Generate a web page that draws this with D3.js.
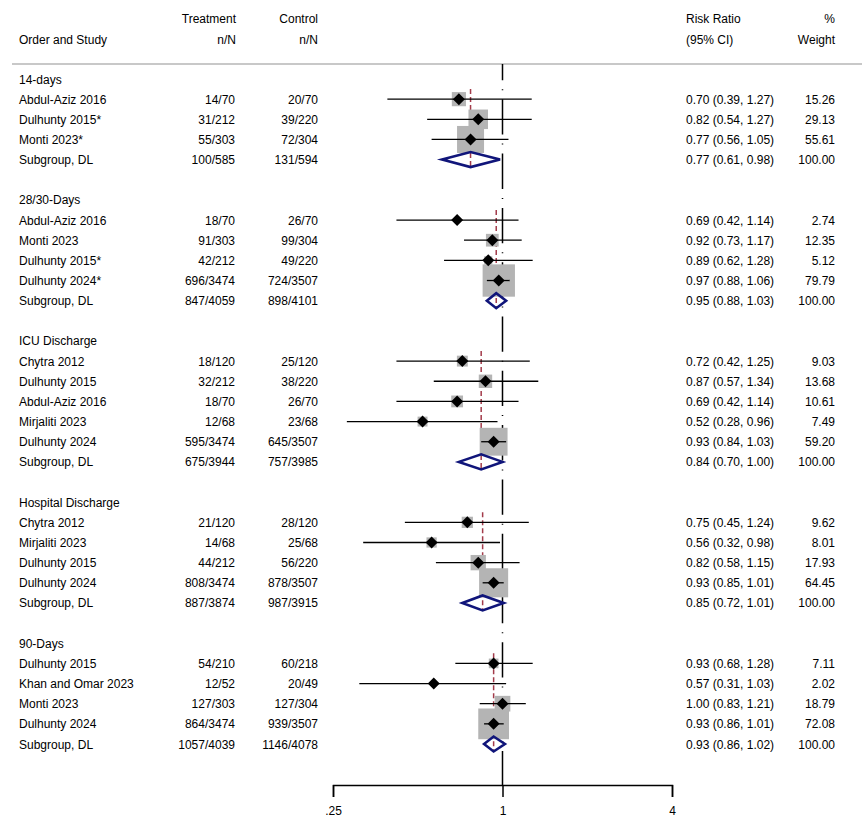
<!DOCTYPE html>
<html>
<head>
<meta charset="utf-8">
<script src="https://cdn.jsdelivr.net/npm/d3@7"></script>
<style>
  body { margin: 0; background: #fff; }
  svg text { font-family: "Liberation Sans", Arial, sans-serif; font-size: 12px; fill: #000; }
</style>
</head>
<body>
<div id="forest_div"></div>
<script>
// subgroups (outcome timepoints)
const groups = ["14-days", "28/30-Days", "ICU Discharge", "Hospital Discharge", "90-Days"];

// study rows
const studyGroup = [0, 0, 0, 1, 1, 1, 1, 2, 2, 2, 2, 2, 3, 3, 3, 3, 4, 4, 4, 4];
const studies = [
  "Abdul-Aziz 2016", "Dulhunty 2015*", "Monti 2023*",
  "Abdul-Aziz 2016", "Monti 2023", "Dulhunty 2015*", "Dulhunty 2024*",
  "Chytra 2012", "Dulhunty 2015", "Abdul-Aziz 2016", "Mirjaliti 2023", "Dulhunty 2024",
  "Chytra 2012", "Mirjaliti 2023", "Dulhunty 2015", "Dulhunty 2024",
  "Dulhunty 2015", "Khan and Omar 2023", "Monti 2023", "Dulhunty 2024"
];
const treatment = [
  "14/70", "31/212", "55/303",
  "18/70", "91/303", "42/212", "696/3474",
  "18/120", "32/212", "18/70", "12/68", "595/3474",
  "21/120", "14/68", "44/212", "808/3474",
  "54/210", "12/52", "127/303", "864/3474"
];
const control = [
  "20/70", "39/220", "72/304",
  "26/70", "99/304", "49/220", "724/3507",
  "25/120", "38/220", "26/70", "23/68", "645/3507",
  "28/120", "25/68", "56/220", "878/3507",
  "60/218", "20/49", "127/304", "939/3507"
];
const rr = [0.70, 0.82, 0.77, 0.69, 0.92, 0.89, 0.97, 0.72, 0.87, 0.69, 0.52, 0.93, 0.75, 0.56, 0.82, 0.93, 0.93, 0.57, 1.00, 0.93];
const lo = [0.39, 0.54, 0.56, 0.42, 0.73, 0.62, 0.88, 0.42, 0.57, 0.42, 0.28, 0.84, 0.45, 0.32, 0.58, 0.85, 0.68, 0.31, 0.83, 0.86];
const hi = [1.27, 1.27, 1.05, 1.14, 1.17, 1.28, 1.06, 1.25, 1.34, 1.14, 0.96, 1.03, 1.24, 0.98, 1.15, 1.01, 1.28, 1.03, 1.21, 1.01];
const weight = [15.26, 29.13, 55.61, 2.74, 12.35, 5.12, 79.79, 9.03, 13.68, 10.61, 7.49, 59.20, 9.62, 8.01, 17.93, 64.45, 7.11, 2.02, 18.79, 72.08];

// subgroup pooled estimates (DerSimonian-Laird)
const subTreatment = ["100/585", "847/4059", "675/3944", "887/3874", "1057/4039"];
const subControl = ["131/594", "898/4101", "757/3985", "987/3915", "1146/4078"];
const subRR = [0.77, 0.95, 0.84, 0.85, 0.93];
const subLo = [0.61, 0.88, 0.70, 0.72, 0.86];
const subHi = [0.98, 1.03, 1.00, 1.01, 1.02];

// x-axis ticks
const tickVals = [0.25, 1, 4];
const tickLabels = [".25", "1", "4"];

const width = 862, height = 835;

const svg = d3.select("#forest_div")
  .append("svg")
  .attr("width", width)
  .attr("height", height);

// build the row layout: header, studies, subgroup, blank
let rows = [];
let idx = 0;
groups.forEach((g, gi) => {
  const start = idx;
  rows.push({type: "header", label: g, row: idx++, group: gi});
  studies.forEach((s, i) => {
    if (studyGroup[i] === gi) rows.push({type: "study", i: i, row: idx++, group: gi});
  });
  rows.push({type: "sub", i: gi, row: idx++, group: gi, start: start});
  idx++;
});

const y = d3.scaleLinear().domain([0, 33]).range([79, 744]);
const x = d3.scaleLog().base(2).domain([0.25, 4]).range([333, 672]);
const axisY = 785;
const fmt = d3.format(".2f");

// header texts
const hdr = svg.append("g");
hdr.append("text").attr("x", 236).attr("y", 23).attr("text-anchor", "end").text("Treatment");
hdr.append("text").attr("x", 318).attr("y", 23).attr("text-anchor", "end").text("Control");
hdr.append("text").attr("x", 19).attr("y", 43.5).text("Order and Study");
hdr.append("text").attr("x", 236).attr("y", 43.5).attr("text-anchor", "end").text("n/N");
hdr.append("text").attr("x", 318).attr("y", 43.5).attr("text-anchor", "end").text("n/N");
hdr.append("text").attr("x", 686).attr("y", 23).text("Risk Ratio");
hdr.append("text").attr("x", 686).attr("y", 43.5).text("(95% CI)");
hdr.append("text").attr("x", 835).attr("y", 23).attr("text-anchor", "end").text("%");
hdr.append("text").attr("x", 835).attr("y", 43.5).attr("text-anchor", "end").text("Weight");

svg.append("line")
  .attr("x1", 12).attr("x2", width)
  .attr("y1", 64).attr("y2", 64)
  .attr("stroke", "#c8c8c8")
  .attr("stroke-width", 2);

// null line at RR = 1
svg.append("line")
  .attr("x1", x(1)).attr("x2", x(1))
  .attr("y1", 64).attr("y2", axisY)
  .attr("stroke", "#000")
  .attr("stroke-width", 1.5)
  .attr("stroke-dasharray", "35.3,9,1,9")
  .attr("stroke-dashoffset", 19);

// subgroup pooled-estimate dashed lines
const subRows = rows.filter(d => d.type === "sub");
svg.append("g")
  .selectAll("line")
  .data(subRows)
  .join("line")
    .attr("x1", d => x(subRR[d.i]))
    .attr("x2", d => x(subRR[d.i]))
    .attr("y1", d => y(d.start) + 10)
    .attr("y2", d => y(d.row) + 8)
    .attr("stroke", "#a33b4a")
    .attr("stroke-width", 1.5)
    .attr("stroke-dasharray", "5,3");

// study markers
const studyRows = rows.filter(d => d.type === "study");
const boxSide = i => 3.62 * Math.sqrt(weight[i]);

svg.append("g")
  .selectAll("rect")
  .data(studyRows)
  .join("rect")
    .attr("x", d => x(rr[d.i]) - boxSide(d.i) / 2)
    .attr("y", d => y(d.row) - boxSide(d.i) / 2)
    .attr("width", d => boxSide(d.i))
    .attr("height", d => boxSide(d.i))
    .attr("fill", "#b4b4b4");

svg.append("g")
  .selectAll("line")
  .data(studyRows)
  .join("line")
    .attr("x1", d => x(lo[d.i]))
    .attr("x2", d => x(hi[d.i]))
    .attr("y1", d => y(d.row))
    .attr("y2", d => y(d.row))
    .attr("stroke", "#000")
    .attr("stroke-width", 1.3);

svg.append("g")
  .selectAll("path")
  .data(studyRows)
  .join("path")
    .attr("d", d => {
      const cx = x(rr[d.i]), cy = y(d.row), r = 6;
      return `M${cx - r},${cy}L${cx},${cy - r}L${cx + r},${cy}L${cx},${cy + r}Z`;
    })
    .attr("fill", "#000");

// subgroup diamonds
svg.append("g")
  .selectAll("path")
  .data(subRows)
  .join("path")
    .attr("d", d => {
      const cy = y(d.row), h = 7.5;
      return `M${x(subLo[d.i])},${cy}L${x(subRR[d.i])},${cy - h}L${x(subHi[d.i])},${cy}L${x(subRR[d.i])},${cy + h}Z`;
    })
    .attr("fill", "none")
    .attr("stroke", "#10157a")
    .attr("stroke-width", 2.6)
    .attr("stroke-linejoin", "miter");

// text columns
const txt = svg.append("g");
rows.forEach(d => {
  const ty = y(d.row) + 4.5;
  if (d.type === "header") {
    txt.append("text").attr("x", 19).attr("y", ty).text(d.label);
  } else if (d.type === "study") {
    const i = d.i;
    txt.append("text").attr("x", 19).attr("y", ty).text(studies[i]);
    txt.append("text").attr("x", 235).attr("y", ty).attr("text-anchor", "end").text(treatment[i]);
    txt.append("text").attr("x", 318).attr("y", ty).attr("text-anchor", "end").text(control[i]);
    txt.append("text").attr("x", 686).attr("y", ty).text(`${fmt(rr[i])} (${fmt(lo[i])}, ${fmt(hi[i])})`);
    txt.append("text").attr("x", 835).attr("y", ty).attr("text-anchor", "end").text(fmt(weight[i]));
  } else {
    const i = d.i;
    txt.append("text").attr("x", 19).attr("y", ty).text("Subgroup, DL");
    txt.append("text").attr("x", 235).attr("y", ty).attr("text-anchor", "end").text(subTreatment[i]);
    txt.append("text").attr("x", 318).attr("y", ty).attr("text-anchor", "end").text(subControl[i]);
    txt.append("text").attr("x", 686).attr("y", ty).text(`${fmt(subRR[i])} (${fmt(subLo[i])}, ${fmt(subHi[i])})`);
    txt.append("text").attr("x", 835).attr("y", ty).attr("text-anchor", "end").text("100.00");
  }
});

// x axis
const xAxis = svg.append("g")
  .attr("transform", `translate(0, ${axisY})`)
  .call(d3.axisBottom(x)
    .tickValues(tickVals)
    .tickFormat((d, i) => tickLabels[i])
    .tickSizeInner(12)
    .tickSizeOuter(12)
    .tickPadding(9));
xAxis.selectAll("path, line").attr("stroke", "#000").attr("stroke-width", 1.5);
xAxis.selectAll("text").attr("font-size", 12).attr("font-family", "Liberation Sans, Arial, sans-serif");
</script>
</body>
</html>
